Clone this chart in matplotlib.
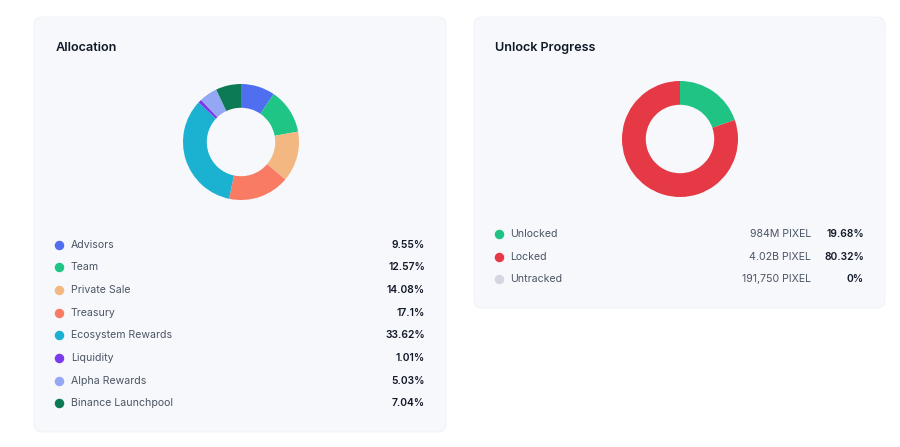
import matplotlib
matplotlib.use("Agg")
import matplotlib.pyplot as plt
from matplotlib.patches import FancyBboxPatch

plt.rcParams['font.family'] = ['Inter', 'DejaVu Sans']

# allocation data
alloc_labels = ['Advisors', 'Team', 'Private Sale', 'Treasury', 'Ecosystem Rewards',
                'Liquidity', 'Alpha Rewards', 'Binance Launchpool']
alloc_values = [9.55, 12.57, 14.08, 17.1, 33.62, 1.01, 5.03, 7.04]
alloc_text = ['9.55%', '12.57%', '14.08%', '17.1%', '33.62%', '1.01%', '5.03%', '7.04%']
alloc_colors = ['#4f6ef0', '#1fc584', '#f3b882', '#f97b64', '#1bb1d0',
                '#7c3aed', '#94a7f5', '#0b7a55']

# unlock progress data
unlock_labels = ['Unlocked', 'Locked', 'Untracked']
unlock_values = [19.68, 80.32, 0.0]
unlock_amounts = ['984M PIXEL', '4.02B PIXEL', '191,750 PIXEL']
unlock_text = ['19.68%', '80.32%', '0%']
unlock_colors = ['#1fc383', '#e63946', '#d3d7e0']

W, H = 900, 447
fig = plt.figure(figsize=(W / 100, H / 100), dpi=100, facecolor='white')

# background axis in pixel coordinates
bg = fig.add_axes([0, 0, 1, 1])
bg.set_xlim(0, W)
bg.set_ylim(H, 0)
bg.axis('off')

panel_color = '#f7f8fc'
for x0, y0, x1, y1 in [(34, 17, 446, 432), (474, 17, 885, 308)]:
    bg.add_patch(FancyBboxPatch((x0, y0), x1 - x0, y1 - y0,
                                boxstyle='round,pad=0,rounding_size=8',
                                facecolor=panel_color, edgecolor='#f0f1f5', lw=0.6))

title_kw = dict(fontsize=9.1, fontweight='semibold', color='#111827', va='center')
bg.text(56, 48, 'Allocation', **title_kw)
bg.text(495, 48, 'Unlock Progress', **title_kw)


def donut(cx, cy, r, values, colors):
    ax = fig.add_axes([(cx - r) / W, (H - cy - r) / H, 2 * r / W, 2 * r / H])
    ax.pie(values, colors=colors, startangle=90, counterclock=False,
           wedgeprops=dict(width=0.41, edgecolor='none'))
    ax.set_xlim(-1, 1)
    ax.set_ylim(-1, 1)
    ax.axis('off')


donut(241, 142, 58, alloc_values, alloc_colors)
donut(680, 139, 58, unlock_values, unlock_colors)

label_color = '#4b5563'
value_color = '#111827'
fs = 7.6
vfs = 7.4

# allocation legend
for i, (lab, txt, col) in enumerate(zip(alloc_labels, alloc_text, alloc_colors)):
    y = 244.5 + i * 22.7
    bg.scatter(59, y, s=34, color=col, zorder=3)
    bg.text(71, y, lab, fontsize=fs, color=label_color, va='center')
    bg.text(425, y, txt, fontsize=vfs, color=value_color, fontweight='semibold',
            va='center', ha='right')

# unlock legend
for i, (lab, amt, txt, col) in enumerate(zip(unlock_labels, unlock_amounts,
                                              unlock_text, unlock_colors)):
    y = 234 + i * 22.6
    bg.scatter(499, y, s=34, color=col, zorder=3)
    bg.text(510, y, lab, fontsize=fs, color=label_color, va='center')
    bg.text(811, y, amt, fontsize=fs, color=label_color, va='center', ha='right')
    bg.text(864, y, txt, fontsize=vfs, color=value_color, fontweight='semibold',
            va='center', ha='right')

fig.savefig('out.png', dpi=100, facecolor='white')
